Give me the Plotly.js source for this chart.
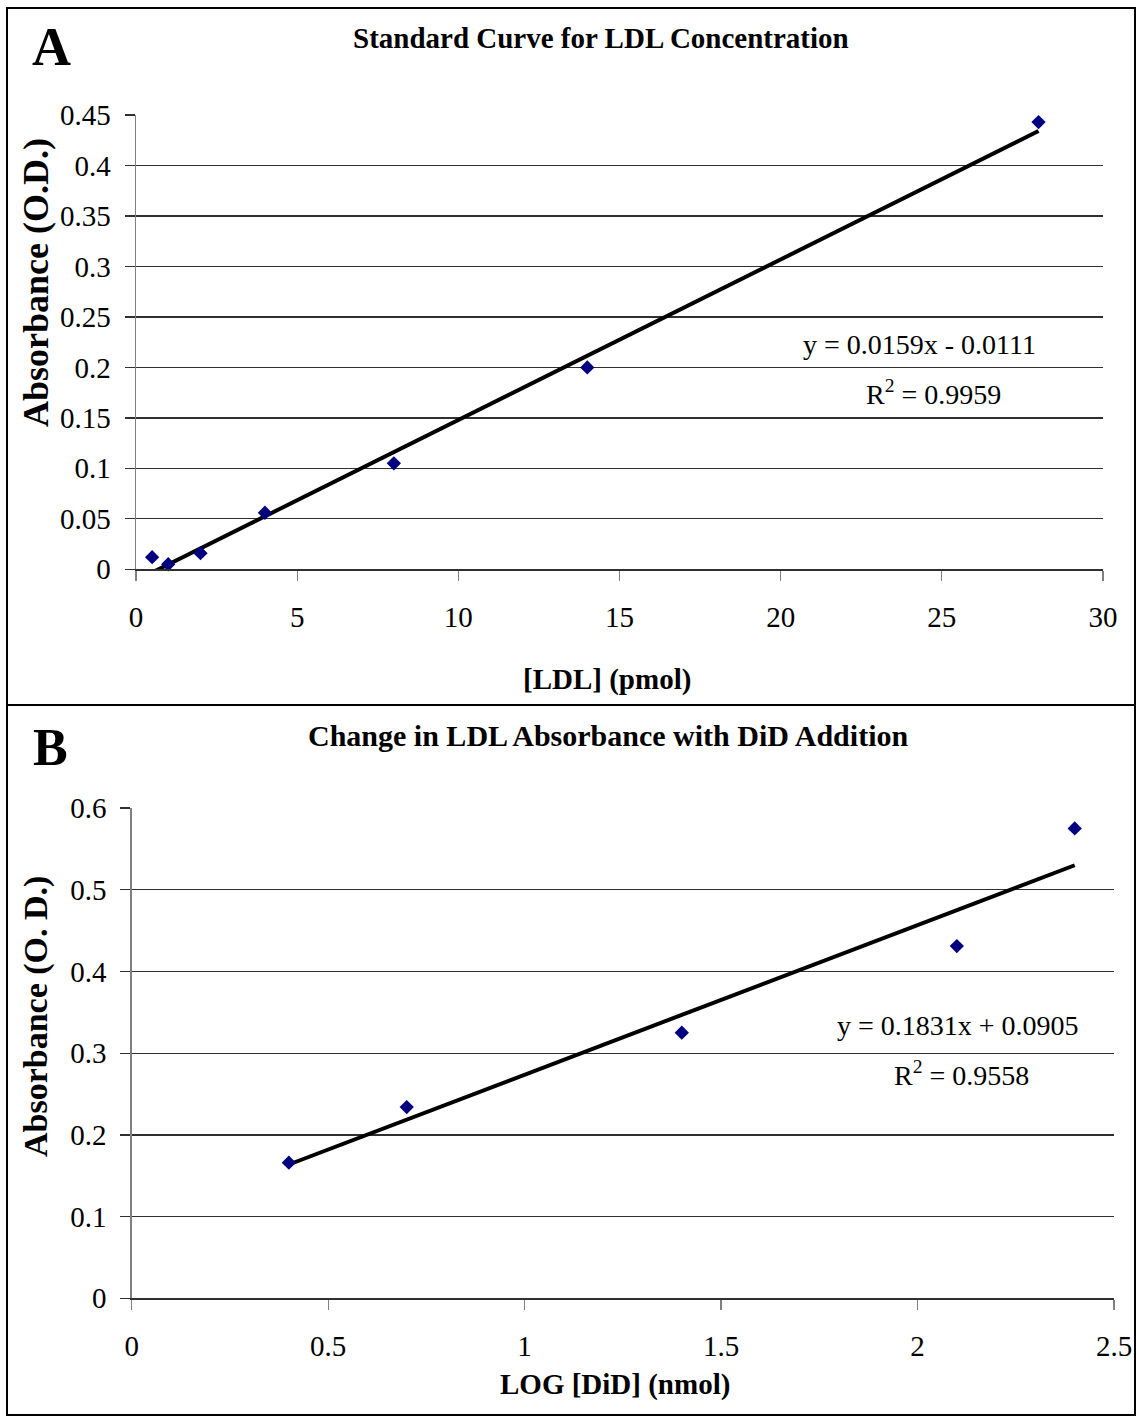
<!DOCTYPE html>
<html>
<head>
<meta charset="utf-8">
<script src="https://cdn.plot.ly/plotly-3.0.1.min.js"></script>
<style>html,body{margin:0;padding:0;background:#fff;} #chart{width:1138px;height:1418px;}</style>
</head>
<body>
<div id="chart"></div>
<script>
// Panel A data: Standard Curve for LDL Concentration
const ldlPmol = [0.5, 1, 2, 4, 8, 14, 28];
const ldlAbs = [0.012, 0.005, 0.016, 0.056, 0.105, 0.200, 0.443];
const trendA = {slope: 0.0159, intercept: -0.0111, r2: 0.9959};
const trendAx = [0.5, 28];

// Panel B data: Change in LDL Absorbance with DiD Addition
const logDiD = [0.4, 0.7, 1.4, 2.1, 2.4];
const didAbs = [0.166, 0.234, 0.325, 0.431, 0.575];
const trendB = {slope: 0.1831, intercept: 0.0905, r2: 0.9558};
const trendBx = [0.4, 2.4];

const ticksAx = [0, 5, 10, 15, 20, 25, 30];
const ticksAy = [0, 0.05, 0.1, 0.15, 0.2, 0.25, 0.3, 0.35, 0.4, 0.45];
const ticksAyText = ['0', '0.05', '0.1', '0.15', '0.2', '0.25', '0.3', '0.35', '0.4', '0.45'];
const ticksBx = [0, 0.5, 1, 1.5, 2, 2.5];
const ticksBxText = ['0', '0.5', '1', '1.5', '2', '2.5'];
const ticksBy = [0, 0.1, 0.2, 0.3, 0.4, 0.5, 0.6];
const ticksByText = ['0', '0.1', '0.2', '0.3', '0.4', '0.5', '0.6'];

const FONT = '"Liberation Serif", "Times New Roman", serif';
const W = 1138, H = 1418;
const px = v => v / W;
const py = v => 1 - v / H;

const markerStyle = {symbol: 'diamond', size: 11, color: '#000080'};
const lineStyle = {color: '#000000', width: 4};

const traces = [
  {x: trendAx, y: trendAx.map(v => trendA.slope * v + trendA.intercept), mode: 'lines', line: lineStyle, xaxis: 'x', yaxis: 'y', hoverinfo: 'skip'},
  {x: ldlPmol, y: ldlAbs, mode: 'markers', marker: markerStyle, xaxis: 'x', yaxis: 'y', cliponaxis: false},
  {x: trendBx, y: trendBx.map(v => trendB.slope * v + trendB.intercept), mode: 'lines', line: lineStyle, xaxis: 'x2', yaxis: 'y2', hoverinfo: 'skip'},
  {x: logDiD, y: didAbs, mode: 'markers', marker: markerStyle, xaxis: 'x2', yaxis: 'y2', cliponaxis: false}
];

const tickFont = {family: FONT, size: 29, color: '#000'};
const xBase = {showgrid: false, zeroline: false, showline: true, linecolor: '#303030', linewidth: 1.3,
  ticks: 'outside', ticklen: 10, tickcolor: '#808080', tickwidth: 1.3, tickfont: tickFont, tickmode: 'array', ticklabelstandoff: 12};
const yBase = {showgrid: true, gridcolor: '#303030', gridwidth: 1.3, zeroline: false, showline: true, linecolor: '#808080', linewidth: 1.5,
  ticks: 'outside', ticklen: 10, tickcolor: '#303030', tickwidth: 1.3, tickfont: tickFont, tickmode: 'array', ticklabelstandoff: 8};

const layout = {
  width: W, height: H, margin: {l: 0, r: 0, t: 0, b: 0}, showlegend: false,
  paper_bgcolor: '#fff', plot_bgcolor: '#fff',
  font: {family: FONT, color: '#000'},
  xaxis: Object.assign({}, xBase, {domain: [px(136), px(1103)], range: [0, 30], tickvals: ticksAx, ticktext: ticksAx.map(String), anchor: 'y'}),
  yaxis: Object.assign({}, yBase, {domain: [py(569.3), py(115)], range: [0, 0.45], tickvals: ticksAy, ticktext: ticksAyText, anchor: 'x'}),
  xaxis2: Object.assign({}, xBase, {domain: [px(131.7), px(1114)], range: [0, 2.5], tickvals: ticksBx, ticktext: ticksBxText, anchor: 'y2'}),
  yaxis2: Object.assign({}, yBase, {domain: [py(1298.3), py(808)], range: [0, 0.6], tickvals: ticksBy, ticktext: ticksByText, anchor: 'x2'}),
  shapes: [
    {type: 'rect', xref: 'paper', yref: 'paper', x0: px(7), x1: px(1135), y0: py(1415), y1: py(8), line: {color: '#000', width: 2}},
    {type: 'line', xref: 'paper', yref: 'paper', x0: px(7), x1: px(1135), y0: py(705), y1: py(705), line: {color: '#000', width: 2}}
  ],
  annotations: [
    {text: '<b>A</b>', xref: 'paper', yref: 'paper', x: px(51), y: py(47), xanchor: 'center', yanchor: 'middle', showarrow: false, font: {family: FONT, size: 54}},
    {text: '<b>Standard Curve for LDL Concentration</b>', xref: 'paper', yref: 'paper', x: px(601), y: py(38), xanchor: 'center', yanchor: 'middle', showarrow: false, font: {family: FONT, size: 29}},
    {text: '<b>Absorbance (O.D.)</b>', xref: 'paper', yref: 'paper', x: px(36), y: py(283), xanchor: 'center', yanchor: 'middle', textangle: -90, showarrow: false, font: {family: FONT, size: 36}},
    {text: '<b>[LDL] (pmol)</b>', xref: 'paper', yref: 'paper', x: px(607), y: py(680), xanchor: 'center', yanchor: 'middle', showarrow: false, font: {family: FONT, size: 29}},
    {text: 'y = ' + trendA.slope + 'x - ' + Math.abs(trendA.intercept), xref: 'paper', yref: 'paper', x: px(919), y: py(345), xanchor: 'center', yanchor: 'middle', showarrow: false, font: {family: FONT, size: 28}},
    {text: 'R<sup>2</sup> = ' + trendA.r2, xref: 'paper', yref: 'paper', x: px(933), y: py(392), xanchor: 'center', yanchor: 'middle', showarrow: false, font: {family: FONT, size: 28}},

    {text: '<b>B</b>', xref: 'paper', yref: 'paper', x: px(50), y: py(748), xanchor: 'center', yanchor: 'middle', showarrow: false, font: {family: FONT, size: 52}},
    {text: '<b>Change in LDL Absorbance with DiD Addition</b>', xref: 'paper', yref: 'paper', x: px(608), y: py(735), xanchor: 'center', yanchor: 'middle', showarrow: false, font: {family: FONT, size: 30}},
    {text: '<b>Absorbance (O. D.)</b>', xref: 'paper', yref: 'paper', x: px(36), y: py(1017), xanchor: 'center', yanchor: 'middle', textangle: -90, showarrow: false, font: {family: FONT, size: 34}},
    {text: '<b>LOG [DiD] (nmol)</b>', xref: 'paper', yref: 'paper', x: px(615), y: py(1384), xanchor: 'center', yanchor: 'middle', showarrow: false, font: {family: FONT, size: 29}},
    {text: 'y = ' + trendB.slope + 'x + ' + trendB.intercept, xref: 'paper', yref: 'paper', x: px(958), y: py(1025), xanchor: 'center', yanchor: 'middle', showarrow: false, font: {family: FONT, size: 28}},
    {text: 'R<sup>2</sup> = ' + trendB.r2, xref: 'paper', yref: 'paper', x: px(961), y: py(1073), xanchor: 'center', yanchor: 'middle', showarrow: false, font: {family: FONT, size: 28}}
  ]
};

Plotly.newPlot('chart', traces, layout, {staticPlot: true, displayModeBar: false});
</script>
</body>
</html>
